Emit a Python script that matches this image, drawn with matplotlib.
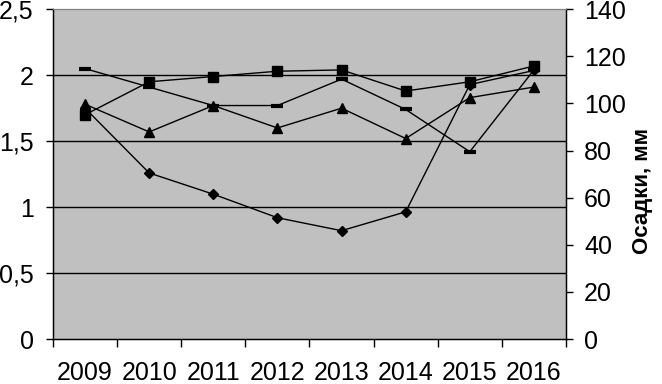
import numpy as np
import matplotlib.pyplot as plt
from matplotlib.ticker import FuncFormatter

plt.rcParams['font.family'] = ['Liberation Sans', 'DejaVu Sans']

# data
years = ['2009', '2010', '2011', '2012', '2013', '2014', '2015', '2016']
squares = [1.70, 1.95, 1.99, 2.03, 2.04, 1.88, 1.95, 2.07]
dashes = [2.05, 1.91, 1.77, 1.77, 1.97, 1.74, 1.42, 2.04]
triangles = [1.78, 1.57, 1.77, 1.60, 1.75, 1.52, 1.83, 1.91]
precip_mm = [98, 70.5, 61.5, 51.5, 46, 54, 108, 114]  # diamonds, right axis

x = np.arange(len(years))

fig = plt.figure(figsize=(6.62, 3.84), dpi=100)
ax = fig.add_axes([0.080, 0.117, 0.775, 0.859])
ax.set_facecolor('#c0c0c0')

ax.plot(x, squares, color='black', lw=1, marker='s', ms=6.5, zorder=3)
ax.plot(x, dashes, color='black', lw=1, marker='_', ms=9, mew=3, zorder=3)
ax.plot(x, triangles, color='black', lw=1, marker='^', ms=7.5, zorder=3)

ax.set_xlim(-0.5, len(years) - 0.5)
ax.set_ylim(0, 2.5)
ax.set_yticks(np.arange(0, 2.51, 0.5))
ax.yaxis.set_major_formatter(FuncFormatter(lambda v, p: ('%g' % v).replace('.', ',')))
ax.set_xticks(x)
ax.set_xticklabels(years)
ax.set_xticks(np.arange(-0.5, len(years), 1), minor=True)
ax.tick_params(axis='x', which='major', length=0, pad=16, labelsize=18)
ax.tick_params(axis='x', which='minor', length=6, width=1)
ax.tick_params(axis='y', length=5, width=1, labelsize=18, pad=9)
for v in [0.5, 1.0, 1.5, 2.0]:
    ax.axhline(v, color='black', lw=1, zorder=1)

ax.spines['top'].set_color('#808080')
for s in ['left', 'right', 'bottom']:
    ax.spines[s].set_color('black')
    ax.spines[s].set_linewidth(1)

ax2 = ax.twinx()
ax2.plot(x, precip_mm, color='black', lw=1, marker='D', ms=5.5, zorder=3)
ax2.set_ylim(0, 140)
ax2.set_yticks(np.arange(0, 141, 20))
ax2.tick_params(axis='y', length=5, width=1, labelsize=18, pad=8)
ax2.set_ylabel('Осадки, мм', fontsize=16, fontweight='bold')
ax2.yaxis.set_label_coords(1.128, 0.45)
ax2.spines['top'].set_color('#808080')

fig.savefig('out.png', dpi=100)
